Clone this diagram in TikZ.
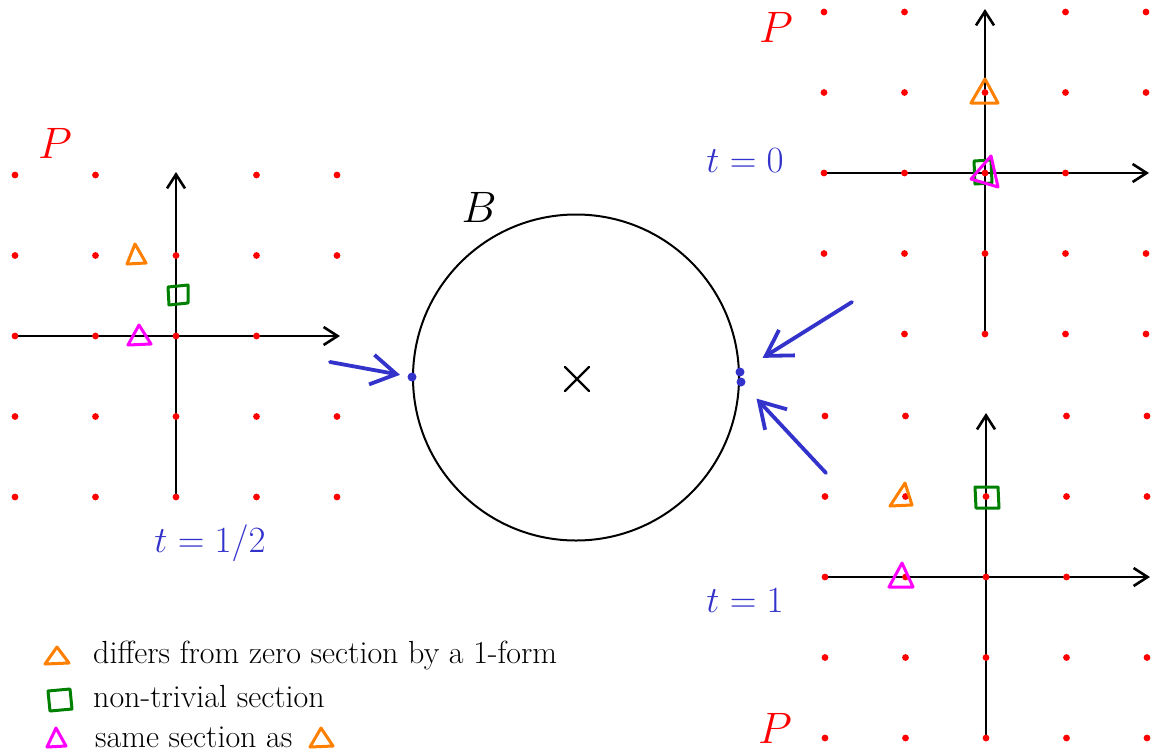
\RequirePackage{fix-cm}
\documentclass[tikz,border=0pt]{standalone}
\usepackage{fontspec}
\usetikzlibrary{arrows.meta}
\definecolor{latred}{RGB}{255,0,0}
\definecolor{secblue}{RGB}{51,51,204}
\definecolor{secorange}{RGB}{255,128,0}
\definecolor{secgreen}{RGB}{0,128,0}
\definecolor{secmagenta}{RGB}{255,0,255}
\newcommand\drawlattice[3]{%
  \begin{scope}[shift={(#1,#2)}]
    \draw[axisline] (-162,0) -- (164,0);
    \draw[axisline] (0,163) -- (0,-164);
    \foreach \i in {-2,...,2}{\foreach \j in {-2,...,2}{%
      \pgfmathtruncatemacro\skipit{((\i==0)&&(\j==-2))||((\i==2)&&(\j==0))||(#3)}%
      \ifnum\skipit=0 \fill[latdot] (\i*80.5,\j*80.5) circle (3.4pt);\fi}}
  \end{scope}}
\begin{document}
\begin{tikzpicture}[x=1pt,y=-1pt,line cap=round,line join=round,
  latdot/.style={fill=latred},
  axisline/.style={line width=2.6pt,-{Straight Barb[length=14pt,width=18pt]}},
  pointer/.style={secblue,line width=3.8pt,-{Straight Barb[length=25pt,width=30pt]}},
  bdot/.style={circle,fill=secblue,inner sep=0pt,minimum size=9pt},
  orangemk/.style={draw=secorange,line width=3pt},
  greenmk/.style={draw=secgreen,line width=3pt},
  magentamk/.style={draw=secmagenta,line width=3pt},
  maintext/.style={font=\fontsize{32}{38}\selectfont,anchor=base west,inner sep=0pt},
  tlabel/.style={text=secblue,font=\fontsize{37}{43}\selectfont,anchor=base,inner sep=0pt},
  plabel/.style={text=latred,font=\fontsize{44}{50}\selectfont,anchor=base,inner sep=0pt}]
\useasboundingbox (0,0) rectangle (1153,753);

% lattices
\drawlattice{176}{336}{0}
\drawlattice{985}{173}{(\i==-2)&&(\j==2)}
\drawlattice{986}{577}{0}

% markers, left lattice (t = 1/2)
\draw[orangemk] (135,244) -- (127,264) -- (146,263) -- cycle;
\draw[greenmk] (168,287) -- (188,285) -- (188,303) -- (169,305) -- cycle;
\draw[magentamk] (139,325) -- (128,345) -- (151,344) -- cycle;

% markers, top-right lattice (t = 0)
\draw[orangemk] (985,79) -- (971,103) -- (998,103) -- cycle;
\draw[greenmk] (974,161) -- (991,160) -- (992,183) -- (975,184) -- cycle;
\draw[magentamk] (991,156) -- (971,179) -- (998,187) -- cycle;

% markers, bottom-right lattice (t = 1)
\draw[orangemk] (905,483) -- (890,506) -- (912,505) -- cycle;
\draw[greenmk] (975,487) -- (998,487) -- (999,508) -- (976,508) -- cycle;
\draw[magentamk] (902,563) -- (889,587) -- (913,587) -- cycle;

% base circle
\node[circle,draw,line width=2pt,minimum size=326pt,inner sep=0pt] (base) at (576,377.5) {};
\draw[line width=2.2pt] (565,367) -- (589,391) (565,391) -- (589,367);
\node[font=\fontsize{44}{50}\selectfont,anchor=base,inner sep=0pt] (blabel) at (479,222) {$B$};

% points on the base
\node[bdot] (phalf) at (412,377) {};
\node[bdot] (pzero) at (740,372) {};
\node[bdot] (pone) at (741,382) {};

% pointers
\coordinate (shalf) at (330,362);
\coordinate (szero) at (852,302);
\coordinate (sone) at (826,473);
\draw[pointer,shorten >=7.5pt] (shalf) -- (phalf);
\draw[pointer,shorten >=22pt] (szero) -- (pzero);
\draw[pointer,shorten >=18pt] (sone) -- (pone);

% labels
\node[plabel] (P1) at (55,158) {$P$};
\node[plabel] (P2) at (776,42) {$P$};
\node[plabel] (P3) at (775,743) {$P$};
\node[tlabel] (thalf) at (210,552) {$t = 1/2$};
\node[tlabel] (tzero) at (745,172) {$t = 0$};
\node[tlabel] (tone) at (745,612) {$t = 1$};

% legend
\draw[orangemk] (57,647) -- (45,664) -- (69,663) -- cycle;
\draw[greenmk] (48,691) -- (70,689) -- (72,709) -- (50,711) -- cycle;
\draw[magentamk] (56,728) -- (47,747) -- (66,746) -- cycle;
\node[maintext] (leg1) at (93,663) {differs from zero section by a 1-form};
\node[maintext] (leg2) at (93,707) {non-trivial section};
\node[maintext] (leg3) at (95,747) {same section as};
\draw[orangemk] (321,728) -- (310,747) -- (333,746) -- cycle;
\end{tikzpicture}
\end{document}
